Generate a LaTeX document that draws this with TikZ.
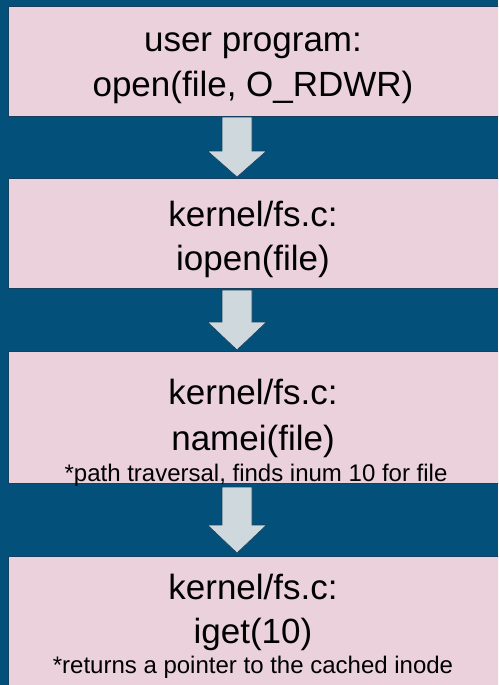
\documentclass[tikz,border=0pt]{standalone}
\usepackage{fontspec}
\setmainfont{Liberation Sans}
\usetikzlibrary{calc}
\definecolor{bgblue}{HTML}{03507B}
\definecolor{boxpink}{HTML}{EAD1DC}
\definecolor{boxedge}{HTML}{16405E}
\definecolor{arrowfill}{HTML}{CFD8DC}
\tikzset{
  stepbox/.style={rectangle, fill=boxpink, draw=boxedge, line width=1.2pt,
    minimum width=494pt, inner sep=0pt, anchor=north west},
  bigtext/.style={anchor=base, inner sep=0pt, font=\fontsize{35}{42}\selectfont, text=black},
  smalltext/.style={anchor=base, inner sep=0pt, font=\fontsize{24}{28}\selectfont, text=black},
  blockarrow/.style={fill=arrowfill, draw=boxedge, line width=0.6pt, line join=miter}
}
\newcommand{\myblockarrow}[3]{% top, head top, tip (y values), centred at x=237
  \draw[blockarrow] (222,#1) -- (252,#1) -- (252,#2) -- (266.5,#2) -- (237,#3)
     -- (207.5,#2) -- (222,#2) -- cycle;}
\begin{document}
\begin{tikzpicture}[x=1pt,y=-1pt]
\useasboundingbox (0,0) rectangle (498,685);
\fill[bgblue] (0,0) rectangle (498,685);
\begin{scope}
\clip (0,0) rectangle (498,685);
\node[stepbox, minimum height=110pt] (b1) at (8,6) {};
\node[stepbox, minimum height=110pt] (b2) at (8,178) {};
\node[stepbox, minimum height=132pt] (b3) at (8,351) {};
\node[stepbox, minimum height=132pt] (b4) at (8,556) {};

\myblockarrow{117}{151}{177}
\myblockarrow{290}{322}{350}
\myblockarrow{487}{525}{553}

\node[bigtext] (t1a) at (253,52) {user program:};
\node[bigtext] (t1b) at (253,96) {open(file, O\_RDWR)};

\node[bigtext] (t2a) at (253,226) {kernel/fs.c:};
\node[bigtext] (t2b) at (253,270) {iopen(file)};

\node[bigtext] (t3a) at (253,404) {kernel/fs.c:};
\node[bigtext] (t3b) at (253,450) {namei(file)};
\node[smalltext] (t3c) at (256,481) {*path traversal, finds inum 10 for file};

\node[bigtext] (t4a) at (253,599) {kernel/fs.c:};
\node[bigtext] (t4b) at (253,643) {iget(10)};
\node[smalltext] (t4c) at (253,673) {*returns a pointer to the cached inode};
\end{scope}
\end{tikzpicture}
\end{document}
